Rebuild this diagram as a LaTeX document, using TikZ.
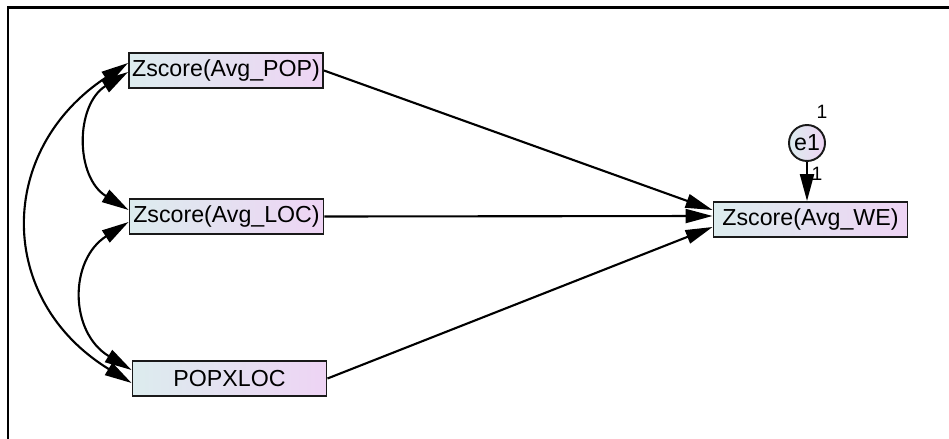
\documentclass[tikz,border=0pt]{standalone}
\usepackage{fontspec}
\setmainfont{Liberation Sans}
\usetikzlibrary{arrows.meta,positioning,shapes.geometric}

\definecolor{boxleft}{RGB}{220,236,238}
\definecolor{boxright}{RGB}{238,212,244}

\tikzset{
    obsbox/.style={draw=black!90, line width=1.1pt, left color=boxleft, right color=boxright,
        minimum width=3.88cm, minimum height=0.7cm, inner sep=0pt, font=\fontsize{13.2}{15}\selectfont},
    errcirc/.style={circle, draw=black!90, line width=1.1pt, left color=boxleft, right color=boxright,
        minimum size=0.72cm, inner sep=0pt, font=\fontsize{13.2}{15}\selectfont},
    regline/.style={line width=1.2pt, -{Triangle[length=0.54cm,width=0.28cm]}},
    covline/.style={line width=1.2pt, {Triangle[length=0.54cm,width=0.28cm]}-{Triangle[length=0.54cm,width=0.28cm]}},
    wlabel/.style={font=\fontsize{11}{12}\selectfont, inner sep=0pt}
}

\begin{document}
\begin{tikzpicture}[x=0.02cm, y=-0.02cm]
    \useasboundingbox (0,0) rectangle (949,439);
    \fill[white] (0,0) rectangle (949,439);

    % Frame
    \draw[line width=1.3pt] (8,439) -- (8,7.5) -- (949,7.5);

    % Observed variables
    \node[obsbox] (pop) at (226,70.5) {Zscore(Avg\_POP)};
    \node[obsbox] (loc) at (226.5,216.5) {Zscore(Avg\_LOC)};
    \node[obsbox] (popxloc) at (229.5,378.5) {POPXLOC};
    \node[obsbox] (we) at (810.5,219.5) {Zscore(Avg\_WE)};

    % Error term
    \node[errcirc] (e1) at (807,143) {e1};
    \node[wlabel] (e1var) at (822,112) {1};

    % Regression paths
    \draw[regline] (pop.east) -- ([yshift=0.19cm]we.west);
    \draw[regline] (loc.east) -- ([yshift=0.07cm]we.west);
    \draw[regline] (popxloc.east) -- ([yshift=-0.15cm]we.west);
    \draw[regline] (e1.south) -- (e1.south |- we.north)
        node[wlabel, pos=0.3, right=2pt] (e1wt) {1};

    % Covariances
    \draw[covline] ([yshift=-0.03cm]pop.west) .. controls (75,105) and (75,177) .. ([yshift=0.13cm]loc.west);
    \draw[covline] ([yshift=-0.11cm]loc.west) .. controls (69,260) and (69,332) .. ([yshift=0.17cm]popxloc.west);
    \draw[covline] ([yshift=0.15cm]pop.west) .. controls (-4,150) and (-4,300) .. ([yshift=-0.09cm]popxloc.west);
\end{tikzpicture}
\end{document}
